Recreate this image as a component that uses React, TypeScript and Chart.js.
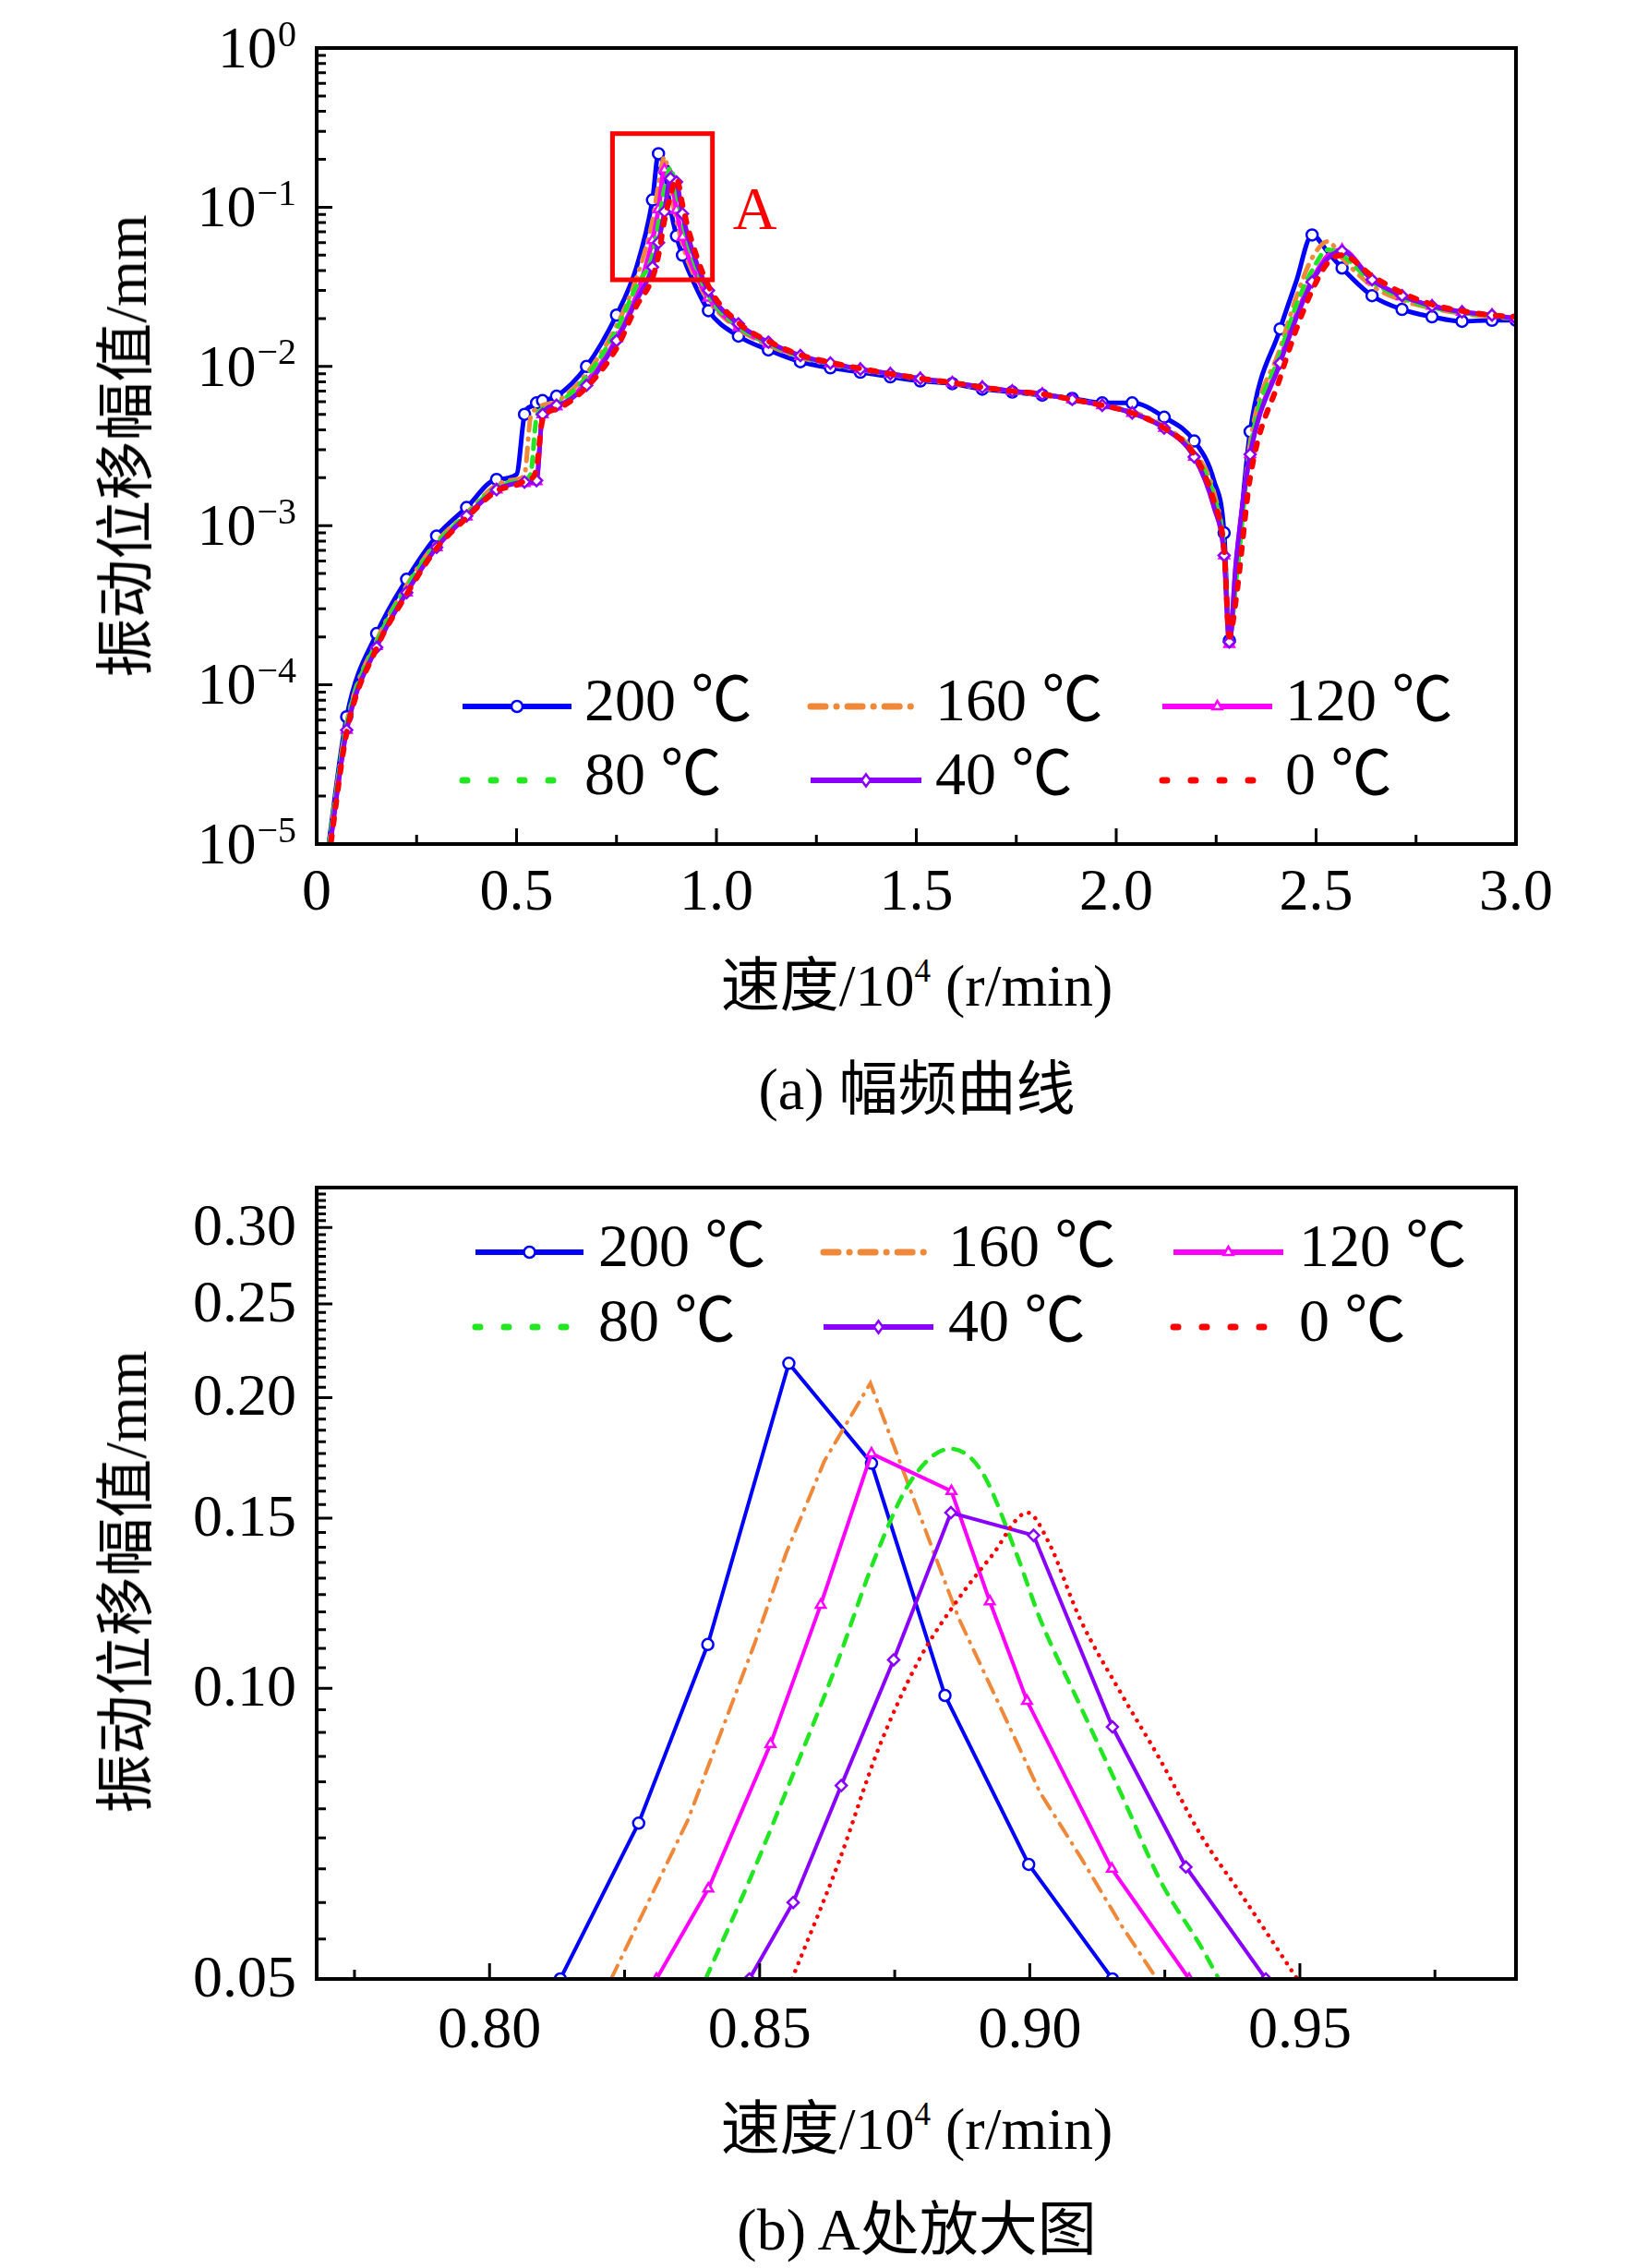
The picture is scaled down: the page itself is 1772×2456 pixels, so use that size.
import { useEffect, useRef } from "react"
import { Chart, registerables } from "chart.js"

Chart.register(...registerables)

const SERIF = "'Liberation Serif', 'Noto Sans CJK SC', serif"

// (a) 幅频曲线 — speed (10^4 r/min) and amplitude (mm) per temperature
const speedA = [
  0.03, 0.075, 0.15, 0.225, 0.3, 0.375, 0.45, 0.5, 0.52, 0.535, 0.55, 0.565, 0.6, 0.675, 0.75, 0.8,
  0.84, 0.855, 0.87, 0.885, 0.9, 0.915, 0.93, 0.98, 1.055, 1.13, 1.21, 1.285, 1.36, 1.435, 1.51, 1.59,
  1.665, 1.74, 1.815, 1.89, 1.965, 2.04, 2.12, 2.195, 2.245, 2.27, 2.283, 2.3, 2.335, 2.41, 2.45, 2.49,
  2.53, 2.565, 2.64, 2.715, 2.79, 2.865, 2.94, 3.0,
]
const amp200A = [
  1.0e-5, 6.3e-5, 2.1e-4, 4.6e-4, 8.6e-4, 1.3e-3, 1.95e-3, 2.1e-3, 5.0e-3, 5.6e-3, 5.9e-3, 6.1e-3, 6.5e-3, 1.0e-2, 2.1e-2, 4.2e-2,
  0.111, 0.217, 0.171, 0.098, 0.066, 0.05, 0.04, 0.0224, 0.0155, 0.0127, 0.0107, 0.0098, 0.0092, 0.0086, 0.0081, 0.0078,
  0.0072, 0.0069, 0.0066, 0.0063, 0.0059, 0.0059, 0.0048, 0.0034, 0.0019, 0.0009, 0.00019, 0.0005, 0.0039, 0.0172, 0.034, 0.067,
  0.052, 0.0415, 0.0278, 0.0228, 0.0205, 0.0192, 0.0195, 0.0195,
]
const amp160A = [
  9.5e-6, 5.7e-5, 1.9e-4, 4.2e-4, 7.9e-4, 1.2e-3, 1.8e-3, 1.95e-3, 2.1e-3, 4.8e-3, 5.4e-3, 5.7e-3, 6.0e-3, 9.0e-3, 1.8e-2, 3.6e-2,
  0.082, 0.138, 0.207, 0.128, 0.082, 0.059, 0.045, 0.026, 0.0172, 0.0136, 0.0114, 0.0103, 0.0095, 0.0089, 0.0083, 0.0078,
  0.0073, 0.0069, 0.0066, 0.0062, 0.0057, 0.0052, 0.0042, 0.0029, 0.0016, 0.0007, 0.0002, 0.00045, 0.0033, 0.013, 0.027, 0.048,
  0.061, 0.048, 0.032, 0.026, 0.0232, 0.0215, 0.0205, 0.02,
]
const amp120A = [
  8.5e-6, 5.2e-5, 1.75e-4, 3.8e-4, 7.3e-4, 1.14e-3, 1.68e-3, 1.85e-3, 1.85e-3, 1.85e-3, 1.9e-3, 5.0e-3, 5.6e-3, 8.0e-3, 1.5e-2, 2.8e-2,
  0.062, 0.097, 0.172, 0.16, 0.096, 0.065, 0.049, 0.027, 0.0176, 0.0139, 0.0116, 0.0104, 0.0096, 0.009, 0.0084, 0.0079,
  0.0074, 0.007, 0.0067, 0.0062, 0.0057, 0.0051, 0.0041, 0.0027, 0.0013, 0.00065, 0.00018, 0.0006, 0.0028, 0.011, 0.021, 0.035,
  0.05, 0.054, 0.035, 0.0275, 0.024, 0.022, 0.021, 0.02,
]
const amp80A = [
  9.5e-6, 5.6e-5, 1.85e-4, 4.1e-4, 7.7e-4, 1.18e-3, 1.75e-3, 1.9e-3, 1.95e-3, 2.1e-3, 4.8e-3, 5.4e-3, 5.8e-3, 8.6e-3, 1.7e-2, 3.2e-2,
  0.05, 0.079, 0.13, 0.177, 0.124, 0.081, 0.058, 0.028, 0.0178, 0.0139, 0.0116, 0.0104, 0.0096, 0.009, 0.0084, 0.0079,
  0.0074, 0.007, 0.0067, 0.0062, 0.0057, 0.0051, 0.0041, 0.0028, 0.0015, 0.0007, 0.0002, 0.00045, 0.003, 0.012, 0.024, 0.04,
  0.054, 0.05, 0.034, 0.027, 0.0235, 0.0218, 0.0207, 0.02,
]
const amp40A = [
  8.5e-6, 5.2e-5, 1.72e-4, 3.8e-4, 7.3e-4, 1.15e-3, 1.68e-3, 1.85e-3, 1.88e-3, 1.88e-3, 1.92e-3, 5.0e-3, 5.7e-3, 7.6e-3, 1.45e-2, 2.6e-2,
  0.042, 0.06, 0.094, 0.152, 0.144, 0.091, 0.064, 0.03, 0.0185, 0.0142, 0.0117, 0.0105, 0.0096, 0.009, 0.0084, 0.0079,
  0.0074, 0.007, 0.0067, 0.0062, 0.0057, 0.0051, 0.0041, 0.0027, 0.0013, 0.00065, 0.000186, 0.0006, 0.0028, 0.0105, 0.02, 0.034,
  0.048, 0.053, 0.035, 0.0278, 0.024, 0.022, 0.021, 0.02,
]
const amp0A = [
  8.0e-6, 5.0e-5, 1.7e-4, 3.7e-4, 7.2e-4, 1.12e-3, 1.65e-3, 1.8e-3, 1.9e-3, 1.95e-3, 2.3e-3, 4.6e-3, 5.4e-3, 7.4e-3, 1.3e-2, 2.4e-2,
  0.036, 0.05, 0.083, 0.118, 0.152, 0.104, 0.072, 0.032, 0.0188, 0.0144, 0.0118, 0.0106, 0.0097, 0.009, 0.0084, 0.0079,
  0.0074, 0.007, 0.0067, 0.0062, 0.0057, 0.0051, 0.0041, 0.0028, 0.0014, 0.0007, 0.0002, 0.00035, 0.002, 0.0085, 0.017, 0.03,
  0.045, 0.05, 0.037, 0.029, 0.0245, 0.0223, 0.021, 0.0205,
]
// speeds in (a) drawn without a marker symbol
const unmarkedA = [0.03, 0.5, 0.535, 0.8, 0.93, 2.245, 2.3, 2.45, 2.53]

// (b) A处放大图 — each curve keeps its own speed points
const speed200B = [0.8131, 0.8276, 0.8404, 0.8554, 0.8707, 0.8843, 0.8998, 0.9153]
const amp200B = [0.05, 0.0725, 0.111, 0.217, 0.171, 0.0983, 0.0657, 0.05]
const speed160B = [0.8225, 0.8367, 0.849, 0.8549, 0.862, 0.8705, 0.8825, 0.8869, 0.8944, 0.9019, 0.9093, 0.9168, 0.9235]
const amp160B = [0.05, 0.073, 0.111, 0.138, 0.172, 0.207, 0.137, 0.118, 0.096, 0.078, 0.067, 0.057, 0.05]
const speed120B = [0.8309, 0.8405, 0.852, 0.8613, 0.8707, 0.8855, 0.8926, 0.8995, 0.9152, 0.9295]
const amp120B = [0.05, 0.062, 0.0875, 0.122, 0.175, 0.16, 0.123, 0.097, 0.065, 0.05]
const speed80B = [0.84, 0.8485, 0.856, 0.864, 0.8717, 0.878, 0.8853, 0.891, 0.8975, 0.9019, 0.9093, 0.9168, 0.9243, 0.9317, 0.935]
const amp80B = [0.05, 0.064, 0.081, 0.105, 0.138, 0.164, 0.177, 0.168, 0.138, 0.118, 0.096, 0.078, 0.063, 0.054, 0.05]
const speed40B = [0.8481, 0.8562, 0.8651, 0.8748, 0.8854, 0.9007, 0.9153, 0.9289, 0.9437]
const amp40B = [0.05, 0.06, 0.0793, 0.107, 0.152, 0.144, 0.0912, 0.0653, 0.05]
const speed0B = [0.856, 0.8646, 0.872, 0.8795, 0.8869, 0.8929, 0.8996, 0.9034, 0.9093, 0.9168, 0.9243, 0.9317, 0.9392, 0.9495]
const amp0B = [0.05, 0.066, 0.0866, 0.107, 0.124, 0.137, 0.152, 0.142, 0.118, 0.099, 0.084, 0.0704, 0.0611, 0.05]

const seriesLabels = ["200 ℃", "160 ℃", "120 ℃", "80 ℃", "40 ℃", "0 ℃"]

// axis ticks
const xMajorA = [0, 0.5, 1.0, 1.5, 2.0, 2.5, 3.0]
const xMinorA = [0.25, 0.75, 1.25, 1.75, 2.25, 2.75]
const yMajorA = [1, 1e-1, 1e-2, 1e-3, 1e-4, 1e-5]
const xMajorB = [0.8, 0.85, 0.9, 0.95]
const xMinorB = [0.775, 0.825, 0.875, 0.925, 0.975]
const yMajorB = [0.05, 0.1, 0.15, 0.2, 0.25, 0.3]

// styles
const colors = ["#0000ff", "#f0883a", "#ff00ff", "#22e622", "#8a00ff", "#ff0000"]
const markers: (string | false)[] = ["circle", false, "triangle", false, "rectRot", false]
const widthA = [5, 5, 5, 5, 5, 6]
const dashA = [[], [14, 9, 1, 9], [], [10, 9], [], [7, 12]]
const widthB = [4, 4, 4, 4.5, 4, 4.5]
const dashB = [[], [16, 9, 1, 9], [], [12, 11], [], [0.1, 9]]
const legendDash = [[], [16, 12, 0.1, 12], [], [5, 26], [], [5, 26]]

function logMinor(minExp: number, maxExp: number) {
  const out: number[] = []
  for (let e = minExp; e < maxExp; e++) for (let k = 2; k <= 9; k++) out.push(k * 10 ** e)
  return out
}

function linMinor(from: number, to: number, step: number, skip: number[]) {
  const out: number[] = []
  for (let v = from; v <= to + 1e-9; v += step) {
    if (!skip.some((s) => Math.abs(s - v) < 1e-6)) out.push(v)
  }
  return out
}

function drawMarker(ctx: CanvasRenderingContext2D, style: string, x: number, y: number, r: number, color: string) {
  ctx.save()
  ctx.setLineDash([])
  ctx.fillStyle = "#ffffff"
  ctx.strokeStyle = color
  ctx.lineWidth = 2.5
  ctx.beginPath()
  if (style === "circle") ctx.arc(x, y, r, 0, Math.PI * 2)
  else if (style === "triangle") {
    ctx.moveTo(x, y - r)
    ctx.lineTo(x + r * 0.87, y + r * 0.5)
    ctx.lineTo(x - r * 0.87, y + r * 0.5)
    ctx.closePath()
  } else {
    ctx.moveTo(x, y - r * 1.1)
    ctx.lineTo(x + r * 0.8, y)
    ctx.lineTo(x, y + r * 1.1)
    ctx.lineTo(x - r * 0.8, y)
    ctx.closePath()
  }
  ctx.fill()
  ctx.stroke()
  ctx.restore()
}

type Decor = {
  xMajor: number[]
  xMinor: number[]
  yMajor: number[]
  yMinor: number[]
  xText: (v: number) => string
  xLabelGap: number
  yText: (ctx: CanvasRenderingContext2D, v: number, x: number, y: number) => void
  legendRows: number[]
  legendCols: number[][]
  extra?: (chart: Chart) => void
}

function makeDecor(cfg: Decor) {
  return {
    id: "decor",
    afterDraw(chart: Chart) {
      const { ctx, chartArea: a } = chart
      const xs = chart.scales.x
      const ys = chart.scales.y
      ctx.save()

      // inward ticks on left and bottom
      ctx.strokeStyle = "#000"
      ctx.lineWidth = 3
      ctx.setLineDash([])
      ctx.beginPath()
      cfg.xMajor.forEach((v) => {
        const p = xs.getPixelForValue(v)
        ctx.moveTo(p, a.bottom)
        ctx.lineTo(p, a.bottom - 17)
      })
      cfg.xMinor.forEach((v) => {
        const p = xs.getPixelForValue(v)
        ctx.moveTo(p, a.bottom)
        ctx.lineTo(p, a.bottom - 10)
      })
      cfg.yMajor.forEach((v) => {
        const p = ys.getPixelForValue(v)
        ctx.moveTo(a.left, p)
        ctx.lineTo(a.left + 17, p)
      })
      cfg.yMinor.forEach((v) => {
        const p = ys.getPixelForValue(v)
        if (p < a.top || p > a.bottom) return
        ctx.moveTo(a.left, p)
        ctx.lineTo(a.left + 10, p)
      })
      ctx.stroke()

      // frame
      ctx.lineWidth = 4
      ctx.strokeRect(a.left, a.top, a.right - a.left, a.bottom - a.top)

      // tick labels
      ctx.fillStyle = "#000"
      ctx.font = `64px ${SERIF}`
      ctx.textAlign = "center"
      ctx.textBaseline = "middle"
      cfg.xMajor.forEach((v) => ctx.fillText(cfg.xText(v), xs.getPixelForValue(v), a.bottom + cfg.xLabelGap))
      cfg.yMajor.forEach((v) => cfg.yText(ctx, v, a.left - 22, ys.getPixelForValue(v)))

      // legend, 3 columns x 2 rows
      chart.data.datasets.forEach((ds: any, i: number) => {
        const row = cfg.legendRows[Math.floor(i / 3)]
        const [x1, x2, tx] = cfg.legendCols[i % 3]
        ctx.save()
        ctx.strokeStyle = ds.borderColor
        ctx.lineWidth = legendDash[i].length ? 7 : 6
        ctx.lineCap = legendDash[i].length ? "round" : "butt"
        ctx.setLineDash(legendDash[i])
        ctx.beginPath()
        ctx.moveTo(x1, row)
        ctx.lineTo(x2, row)
        ctx.stroke()
        ctx.restore()
        if (markers[i]) drawMarker(ctx, markers[i] as string, (x1 + x2) / 2, row, 6, ds.borderColor)
        ctx.fillStyle = "#000"
        ctx.font = `66px ${SERIF}`
        ctx.textAlign = "left"
        ctx.textBaseline = "middle"
        ctx.fillText(ds.label, tx, row - 2)
      })

      if (cfg.extra) cfg.extra(chart)
      ctx.restore()
    },
  }
}

// region A marked on the full curve
const zoomBoxX = [0.74, 0.99]
const zoomBoxY = [0.035, 0.29]

function buildDatasets(
  speeds: number[][],
  amps: number[][],
  widths: number[],
  dashes: number[][],
  smooth: boolean[],
  unmarked: number[],
) {
  return amps.map((amp, i) => ({
    label: seriesLabels[i],
    data: speeds[i].map((x, j) => ({ x, y: amp[j] })),
    borderColor: colors[i],
    backgroundColor: "#ffffff",
    borderWidth: widths[i],
    borderDash: dashes[i],
    borderCapStyle: dashes[i].length ? "round" : "butt",
    pointStyle: markers[i] || false,
    pointRadius: (c: any) => {
      if (!markers[i]) return 0
      const x = speeds[i][c.dataIndex]
      return unmarked.some((u) => Math.abs(u - x) < 1e-6) ? 0 : 6
    },
    pointBorderWidth: 2.5,
    pointBackgroundColor: "#ffffff",
    pointBorderColor: colors[i],
    cubicInterpolationMode: smooth[i] ? "monotone" : "default",
    tension: 0,
    order: 5 - i,
    clip: 0,
  }))
}

function FullCurve() {
  const chartRef = useRef<HTMLCanvasElement>(null)
  const chartInstance = useRef<Chart | null>(null)

  useEffect(() => {
    if (!chartRef.current) return
    if (chartInstance.current) chartInstance.current.destroy()

    const amps = [amp200A, amp160A, amp120A, amp80A, amp40A, amp0A]
    const decor = makeDecor({
      xMajor: xMajorA,
      xMinor: xMinorA,
      yMajor: yMajorA,
      yMinor: logMinor(-5, 0),
      xText: (v) => (v === 0 ? "0" : v.toFixed(1)),
      xLabelGap: 54,
      yText: (ctx, v, x, y) => {
        const e = Math.round(Math.log10(v))
        const sup = e === 0 ? "0" : "\u2212" + -e
        ctx.textAlign = "right"
        ctx.font = `40px ${SERIF}`
        const w = ctx.measureText(sup).width
        ctx.fillText(sup, x, y - 13)
        ctx.font = `64px ${SERIF}`
        ctx.fillText("10", x - w - 1, y + 4)
      },
      legendRows: [765, 845],
      legendCols: [
        [501, 619, 633],
        [878, 998, 1013],
        [1259, 1378, 1392],
      ],
      extra: (chart) => {
        const { ctx } = chart
        const xs = chart.scales.x
        const ys = chart.scales.y
        const x0 = xs.getPixelForValue(zoomBoxX[0])
        const x1 = xs.getPixelForValue(zoomBoxX[1])
        const y0 = ys.getPixelForValue(zoomBoxY[1])
        const y1 = ys.getPixelForValue(zoomBoxY[0])
        ctx.strokeStyle = "#ff0000"
        ctx.lineWidth = 5
        ctx.setLineDash([])
        ctx.strokeRect(x0, y0, x1 - x0, y1 - y0)
        ctx.fillStyle = "#ff0000"
        ctx.font = `66px ${SERIF}`
        ctx.textAlign = "left"
        ctx.textBaseline = "middle"
        ctx.fillText("A", x1 + 22, (y0 + y1) / 2 + 7)
      },
    })

    chartInstance.current = new Chart(chartRef.current, {
      type: "line",
      data: {
        datasets: buildDatasets(
          amps.map(() => speedA),
          amps,
          widthA,
          dashA,
          [true, true, true, true, true, true],
          unmarkedA,
        ) as any,
      },
      options: {
        responsive: false,
        animation: false,
        devicePixelRatio: 1,
        events: [],
        layout: { padding: { left: 343, right: 130, top: 52, bottom: 86 } },
        scales: {
          x: { type: "linear", min: 0, max: 3, display: false },
          y: { type: "logarithmic", min: 1e-5, max: 1, display: false },
        },
        plugins: { legend: { display: false }, tooltip: { enabled: false } },
      },
      plugins: [decor],
    })

    return () => {
      if (chartInstance.current) {
        chartInstance.current.destroy()
        chartInstance.current = null
      }
    }
  }, [])

  return <canvas ref={chartRef} width={1772} height={1000} style={{ position: "absolute", left: 0, top: 0 }} />
}

function ZoomCurve() {
  const chartRef = useRef<HTMLCanvasElement>(null)
  const chartInstance = useRef<Chart | null>(null)

  useEffect(() => {
    if (!chartRef.current) return
    if (chartInstance.current) chartInstance.current.destroy()

    const decor = makeDecor({
      xMajor: xMajorB,
      xMinor: xMinorB,
      yMajor: yMajorB,
      yMinor: linMinor(0.05, 0.33, 0.005, yMajorB),
      xText: (v) => v.toFixed(2),
      xLabelGap: 57,
      yText: (ctx, v, x, y) => {
        ctx.textAlign = "right"
        ctx.font = `64px ${SERIF}`
        ctx.fillText(v.toFixed(2), x, y + 2)
      },
      legendRows: [120, 201],
      legendCols: [
        [515, 632, 648],
        [892, 1011, 1027],
        [1271, 1390, 1407],
      ],
    })

    chartInstance.current = new Chart(chartRef.current, {
      type: "line",
      data: {
        datasets: buildDatasets(
          [speed200B, speed160B, speed120B, speed80B, speed40B, speed0B],
          [amp200B, amp160B, amp120B, amp80B, amp40B, amp0B],
          widthB,
          dashB,
          [false, false, false, true, false, true],
          [],
        ) as any,
      },
      options: {
        responsive: false,
        animation: false,
        devicePixelRatio: 1,
        events: [],
        layout: { padding: { left: 343, right: 130, top: 50, bottom: 103 } },
        scales: {
          x: { type: "linear", min: 0.768, max: 0.99, display: false },
          y: { type: "logarithmic", min: 0.05, max: 0.33, display: false },
        },
        plugins: { legend: { display: false }, tooltip: { enabled: false } },
      },
      plugins: [decor],
    })

    return () => {
      if (chartInstance.current) {
        chartInstance.current.destroy()
        chartInstance.current = null
      }
    }
  }, [])

  return <canvas ref={chartRef} width={1772} height={1010} style={{ position: "absolute", left: 0, top: 1236 }} />
}

function Text({ x, y, rotate, children }: { x: number; y: number; rotate?: boolean; children: any }) {
  return (
    <div
      style={{
        position: "absolute",
        left: x,
        top: y,
        transform: `translate(-50%, -50%)${rotate ? " rotate(-90deg)" : ""}`,
        whiteSpace: "nowrap",
        fontSize: 64,
        lineHeight: 1,
        color: "#000",
      }}
    >
      {children}
    </div>
  )
}

const sup = { fontSize: "0.55em", verticalAlign: "0.75em" }

export default function App() {
  return (
    <div
      style={{
        position: "absolute",
        left: 0,
        top: 0,
        width: 1772,
        height: 2456,
        background: "#ffffff",
        fontFamily: SERIF,
        overflow: "hidden",
      }}
    >
      <FullCurve />
      <ZoomCurve />
      <Text x={137} y={483} rotate>
        振动位移幅值/mm
      </Text>
      <Text x={993} y={1067}>
        速度/10<span style={sup}>4</span> (r/min)
      </Text>
      <Text x={993} y={1180}>
        (a) 幅频曲线
      </Text>
      <Text x={137} y={1713} rotate>
        振动位移幅值/mm
      </Text>
      <Text x={993} y={2305}>
        速度/10<span style={sup}>4</span> (r/min)
      </Text>
      <Text x={993} y={2415}>
        (b) A处放大图
      </Text>
    </div>
  )
}
